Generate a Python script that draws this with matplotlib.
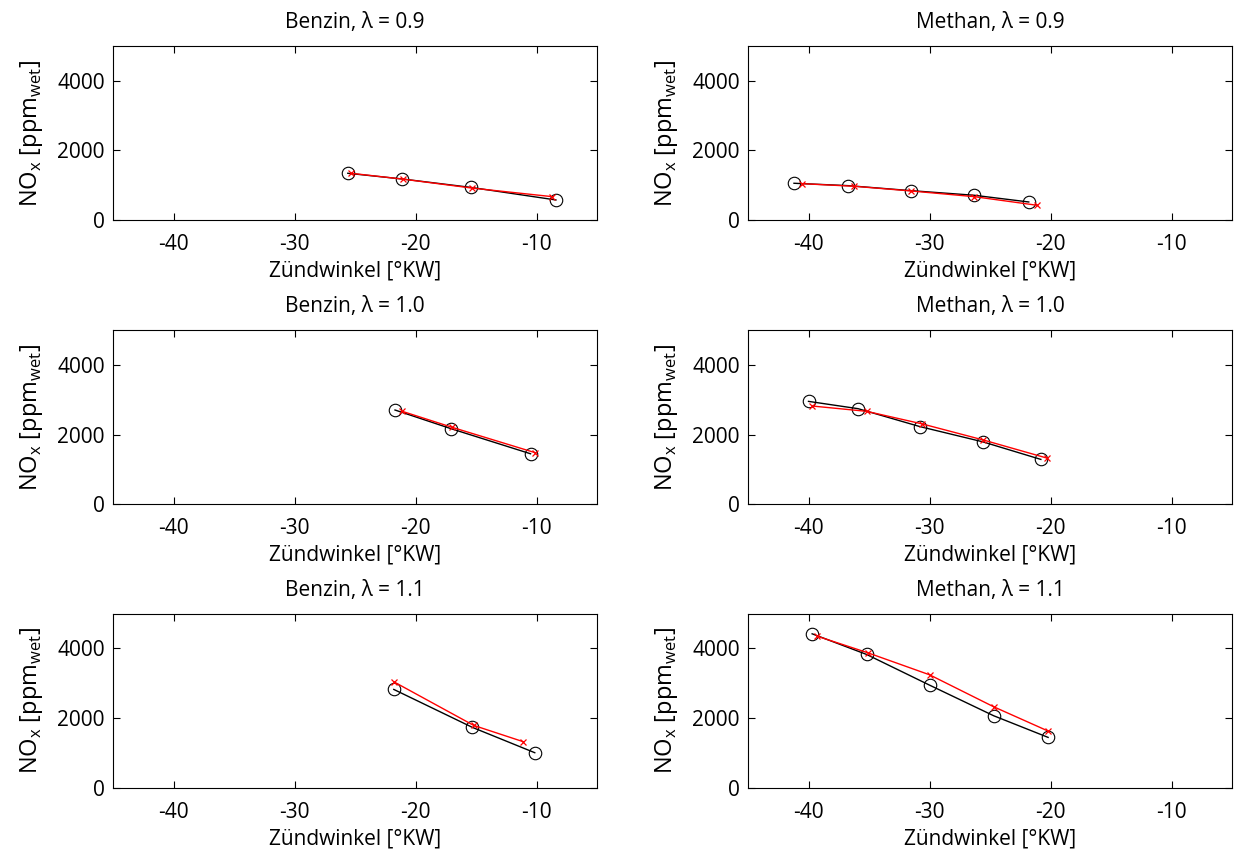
import matplotlib
matplotlib.use('Agg')
import matplotlib.pyplot as plt

# Zündwinkel [°KW] / NOx [ppm wet]; black = Messung (o), red = Simulation (x)
benzin_09_x = [-25.6, -21.1, -15.4, -8.4]
benzin_09_y = [1342, 1178, 935, 575]
benzin_09_sim_x = [-25.3, -21.0, -15.3, -8.7]
benzin_09_sim_y = [1340, 1172, 915, 670]

methan_09_x = [-41.2, -36.7, -31.5, -26.3, -21.8]
methan_09_y = [1055, 986, 842, 710, 517]
methan_09_sim_x = [-40.5, -36.2, -31.5, -26.3, -21.1]
methan_09_sim_y = [1043, 968, 833, 670, 422]

benzin_10_x = [-21.7, -17.1, -10.5]
benzin_10_y = [2714, 2181, 1457]
benzin_10_sim_x = [-21.1, -17.0, -10.1]
benzin_10_sim_y = [2676, 2219, 1486]

methan_10_x = [-40.0, -35.9, -30.8, -25.6, -20.8]
methan_10_y = [2962, 2752, 2238, 1800, 1295]
methan_10_sim_x = [-39.7, -35.2, -30.6, -25.6, -20.3]
methan_10_sim_y = [2829, 2676, 2314, 1857, 1333]

benzin_11_x = [-21.8, -15.3, -10.15]
benzin_11_y = [2823, 1732, 1005]
benzin_11_sim_x = [-21.8, -15.2, -11.1]
benzin_11_sim_y = [3043, 1790, 1321]

methan_11_x = [-39.7, -35.2, -30.0, -24.7, -20.2]
methan_11_y = [4421, 3828, 2947, 2067, 1445]
methan_11_sim_x = [-39.3, -35.1, -30.0, -24.7, -20.2]
methan_11_sim_y = [4354, 3876, 3244, 2325, 1627]

titles = ['Benzin, λ = 0.9', 'Methan, λ = 0.9',
          'Benzin, λ = 1.0', 'Methan, λ = 1.0',
          'Benzin, λ = 1.1', 'Methan, λ = 1.1']
panels = [
    (benzin_09_x, benzin_09_y, benzin_09_sim_x, benzin_09_sim_y),
    (methan_09_x, methan_09_y, methan_09_sim_x, methan_09_sim_y),
    (benzin_10_x, benzin_10_y, benzin_10_sim_x, benzin_10_sim_y),
    (methan_10_x, methan_10_y, methan_10_sim_x, methan_10_sim_y),
    (benzin_11_x, benzin_11_y, benzin_11_sim_x, benzin_11_sim_y),
    (methan_11_x, methan_11_y, methan_11_sim_x, methan_11_sim_y),
]
x_ticks = [-40, -30, -20, -10]
y_ticks = [0, 2000, 4000]

plt.rcParams['font.family'] = ['Open Sans', 'DejaVu Sans']
plt.rcParams['mathtext.fontset'] = 'custom'
plt.rcParams['mathtext.rm'] = 'Open Sans'
plt.rcParams['axes.unicode_minus'] = False

fig = plt.figure(figsize=(12.38, 8.51), dpi=100)

lefts = [0.0913, 0.6042]
bottoms = [0.7415, 0.4072, 0.0744]
w, h = 0.391, 0.2045

for i, (mx, my, sx, sy) in enumerate(panels):
    ax = fig.add_axes([lefts[i % 2], bottoms[i // 2], w, h])
    ax.plot(mx, my, color='black', marker='o', markersize=9, markerfacecolor='none',
            markeredgewidth=0.8, linewidth=1.0)
    ax.plot(sx, sy, color='red', marker='x', markersize=5, markeredgewidth=0.9,
            linewidth=1.0)
    ax.set_xlim(-45, -5)
    ax.set_ylim(0, 5000)
    ax.set_xticks(x_ticks)
    ax.set_yticks(y_ticks)
    ax.tick_params(direction='in', top=True, right=True, labelsize=15, length=5,
                   width=0.8)
    ax.tick_params(axis='x', pad=10)
    ax.tick_params(axis='y', pad=6)
    for s in ax.spines.values():
        s.set_linewidth(0.8)
    ax.set_title(titles[i], fontsize=15, pad=13)
    ax.set_xlabel('Zündwinkel [°KW]', fontsize=15, labelpad=4)
    ax.set_ylabel(r'NO$_\mathregular{x}$ [ppm$_\mathregular{wet}$]', fontsize=17, labelpad=9)

fig.savefig('out.png', dpi=100)
